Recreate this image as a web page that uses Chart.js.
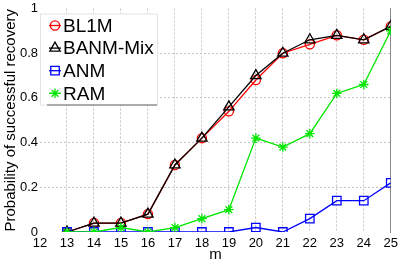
<!DOCTYPE html>
<html>
<head>
<meta charset="utf-8">
<script src="https://cdn.jsdelivr.net/npm/chart.js@4.4.1/dist/chart.umd.min.js"></script>
<style>
  body { margin: 0; background: #fff; }
  canvas { display: block; }
</style>
</head>
<body>
<canvas id="probChart" width="402" height="261"></canvas>
<script>
// m values and recovery probabilities
var mVals = [13, 14, 15, 16, 17, 18, 19, 20, 21, 22, 23, 24, 25];
var bl1m    = [0, 0.04, 0.04, 0.08, 0.30, 0.42, 0.54, 0.68, 0.80, 0.84, 0.88, 0.86, 0.92];
var banmMix = [0, 0.04, 0.04, 0.08, 0.30, 0.42, 0.56, 0.70, 0.80, 0.86, 0.88, 0.86, 0.92];
var anm     = [0, 0, 0, 0, 0, 0, 0, 0.02, 0, 0.06, 0.14, 0.14, 0.22];
var ram     = [0, 0, 0.02, 0, 0.02, 0.06, 0.10, 0.42, 0.38, 0.44, 0.62, 0.66, 0.90];
var seriesNames = ['BL1M', 'BANM-Mix', 'ANM', 'RAM'];

var FONT = "'Liberation Sans', Arial, sans-serif";

function pts(vals) {
  return vals.map(function (v, i) { return { x: mVals[i], y: v }; });
}

function ds(label, vals, color, style, r, order) {
  return {
    label: label,
    data: pts(vals),
    borderColor: color,
    borderWidth: 1.3,
    pointStyle: style,
    pointRadius: r,
    pointBorderColor: color,
    pointBackgroundColor: 'rgba(0,0,0,0)',
    pointBorderWidth: 1.3,
    tension: 0,
    order: order
  };
}

// legend drawn inside the plot, on a white box over the grid
var boxLegend = {
  id: 'boxLegend',
  beforeDatasetsDraw: function (chart) {
    var ctx = chart.ctx;
    var x0 = chart.chartArea.left, y0 = chart.chartArea.top + 5;
    var w = 117, h = 91;
    ctx.save();
    ctx.fillStyle = '#fff';
    ctx.fillRect(x0, y0, w, h);
    ctx.strokeStyle = '#e4e4e4';
    ctx.lineWidth = 1;
    ctx.strokeRect(x0 + 0.5, y0 + 0.5, w, h);
    ctx.strokeStyle = '#666';
    ctx.beginPath();
    ctx.moveTo(x0 + 7, y0 + h + 0.5);
    ctx.lineTo(x0 + w, y0 + h + 0.5);
    ctx.stroke();

    ctx.font = '19px ' + FONT;
    ctx.textBaseline = 'middle';
    ctx.textAlign = 'left';
    chart.data.datasets.forEach(function (d, i) {
      var cy = y0 + 12 + i * 22.6;
      var cx = x0 + 15;
      ctx.strokeStyle = d.borderColor;
      ctx.lineWidth = 1.3;
      ctx.beginPath();
      ctx.moveTo(cx - 6, cy);
      ctx.lineTo(cx + 6, cy);
      ctx.stroke();
      ctx.fillStyle = 'rgba(0,0,0,0)';
      Chart.helpers.drawPoint(ctx, {
        pointStyle: d.pointStyle,
        radius: d.pointRadius,
        borderWidth: 1.3,
        rotation: 0
      }, cx, cy);
      ctx.fillStyle = '#000';
      ctx.fillText(d.label, x0 + 23, cy + 1);
    });
    ctx.restore();
  }
};

new Chart('probChart', {
  type: 'line',
  data: {
    datasets: [
      ds(seriesNames[0], bl1m, '#ff0000', 'circle', 4.6, 4),
      ds(seriesNames[1], banmMix, '#000000', 'triangle', 6, 3),
      ds(seriesNames[2], anm, '#0000ff', 'rect', 6, 2),
      ds(seriesNames[3], ram, '#00e600', 'star', 4.8, 1)
    ]
  },
  options: {
    responsive: false,
    animation: false,
    devicePixelRatio: 1,
    layout: { padding: { top: 7, right: 9, left: 0, bottom: 0 } },
    plugins: {
      legend: { display: false },
      tooltip: { enabled: false }
    },
    scales: {
      x: {
        type: 'linear',
        min: 12,
        max: 25,
        ticks: {
          stepSize: 1,
          padding: 4,
          color: '#000',
          font: { family: FONT, size: 13 }
        },
        grid: {
          drawTicks: false,
          color: function (c) { return c.tick && c.tick.value === 12 ? 'rgba(0,0,0,0)' : '#c4c4c4'; }
        },
        border: { display: false, dash: [2, 2] },
        title: {
          display: true,
          text: 'm',
          color: '#000',
          font: { family: FONT, size: 15, lineHeight: 0.8 },
          padding: { top: 0, bottom: 0 }
        },
        afterFit: function (s) { s.height = 29; }
      },
      y: {
        min: 0,
        max: 1,
        ticks: {
          stepSize: 0.2,
          padding: 2,
          color: '#000',
          font: { family: FONT, size: 13, lineHeight: 1 },
          callback: function (v) { return String(Math.round(v * 10) / 10); }
        },
        grid: {
          drawTicks: false,
          color: function (c) {
            var v = c.tick ? c.tick.value : 0;
            return (v === 0 || v === 1) ? 'rgba(0,0,0,0)' : '#c4c4c4';
          }
        },
        border: { display: false, dash: [2, 2] },
        title: {
          display: true,
          text: 'Probability of successful recovery',
          color: '#000',
          font: { family: FONT, size: 15 },
          padding: { top: 2, bottom: 0 }
        },
        afterFit: function (s) { s.width = 40; }
      },
      yRight: {
        position: 'right',
        min: 0,
        max: 1,
        ticks: { display: false },
        grid: { display: false, drawTicks: false },
        border: { display: true, color: '#8a8a8a', width: 1 }
      }
    }
  },
  plugins: [boxLegend]
});
</script>
</body>
</html>
